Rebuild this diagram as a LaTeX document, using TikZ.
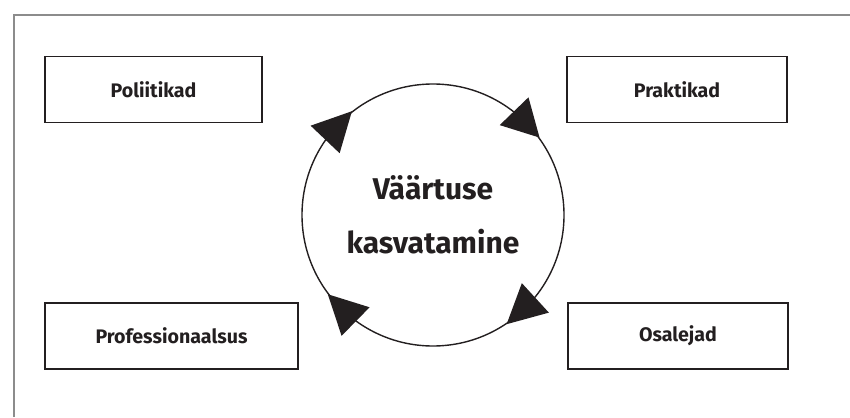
\documentclass[tikz,border=0pt]{standalone}
\usepackage{fontspec}
\setmainfont{Fira Sans}
\usetikzlibrary{calc}
\definecolor{ink}{HTML}{231F20}
\begin{document}
\begin{tikzpicture}[x=1pt,y=-1pt,
  box/.style={draw=ink, line width=1.8pt, minimum height=66pt, inner sep=0pt, text=ink, font=\fontsize{19.6}{23}\selectfont\bfseries},
  ring/.style={draw=ink, line width=1.4pt, circle, minimum size=262pt, inner sep=0pt},
  head/.style={fill=ink, draw=none}]
\useasboundingbox (0,0) rectangle (850,417);
\coordinate (fa) at (14,417);
\coordinate (fb) at (14,15);
\coordinate (fc) at (850,15);
\draw[black!45, line width=1.2pt] (fa) -- (fb) -- (fc);
\node[box, minimum width=217pt] (pol) at (153.5,89.5) {Poliitikad};
\node[box, minimum width=220pt] (pra) at (677,89.5) {Praktikad};
\node[box, minimum width=253pt] (pro) at (171.5,336) {Professionaalsus};
\node[box, minimum width=220pt] (osa) at (678,336) {Osalejad};
\node[ring] (c) at (433,215) {};
\node[text=ink, align=center, font=\fontsize{30}{54}\selectfont\bfseries] (t) at (433,215) {Väärtuse\\kasvatamine};
\foreach \a/\b in {128/145, 36/52, -56/-39, 217/234}{
  \fill[head] (c.\a) -- ($(c.\b)!20pt!90:(c.\a)$) -- ($(c.\b)!20pt!-90:(c.\a)$) -- cycle;
}
\end{tikzpicture}
\end{document}
